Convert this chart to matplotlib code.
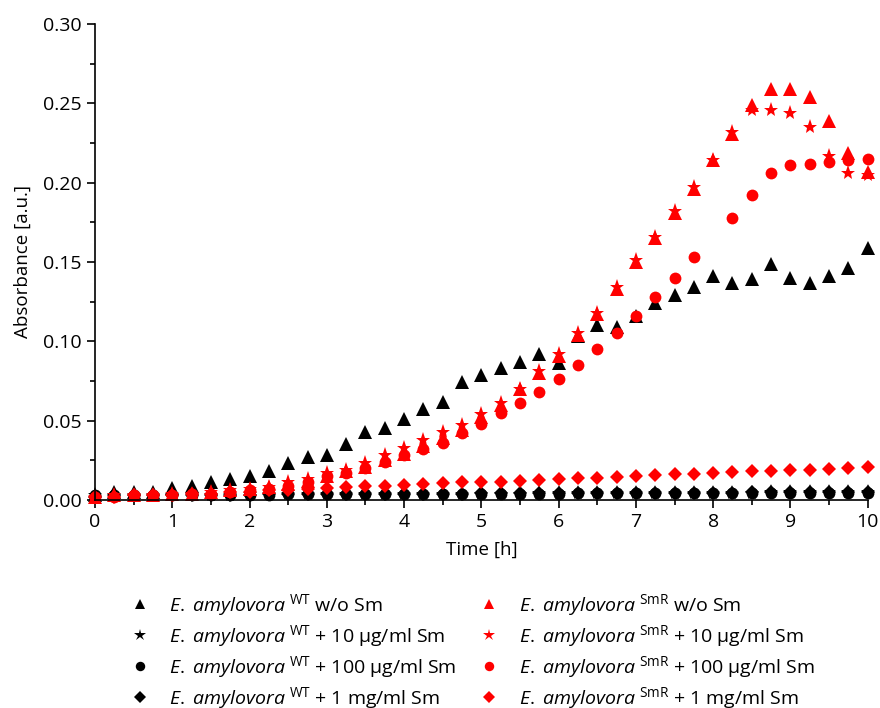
import numpy as np
import matplotlib.pyplot as plt
from matplotlib.ticker import MultipleLocator

plt.rcParams['font.family'] = ['Open Sans', 'DejaVu Sans']
plt.rcParams['mathtext.fontset'] = 'custom'
plt.rcParams['mathtext.rm'] = 'Open Sans'
plt.rcParams['mathtext.it'] = 'Open Sans:italic'

# temps de mesure (h), toutes les 15 min
t = np.arange(0, 10.01, 0.25)

# souche sauvage (WT)
wt_0 = [0.003, 0.005, 0.005, 0.005, 0.0075, 0.009, 0.011, 0.013, 0.015, 0.018, 0.023,
        0.027, 0.028, 0.035, 0.043, 0.045, 0.051, 0.057, 0.062, 0.074, 0.079,
        0.083, 0.087, 0.092, 0.086, 0.103, 0.110, 0.109, 0.116, 0.124, 0.129,
        0.134, 0.141, 0.137, 0.139, 0.149, 0.140, 0.137, 0.141, 0.146, 0.159]
wt_10 = [0.003, 0.003, 0.003, 0.003, 0.003, 0.003, 0.003, 0.003, 0.0035, 0.0035, 0.0035,
         0.0035, 0.0035, 0.004, 0.004, 0.004, 0.004, 0.004, 0.004, 0.004, 0.004,
         0.004, 0.004, 0.0042, 0.0042, 0.0042, 0.0044, 0.0044, 0.0044, 0.0045, 0.0045,
         0.0045, 0.0046, 0.0046, 0.0046, 0.0047, 0.0047, 0.0048, 0.0048, 0.0048, 0.005]
wt_100 = [0.003, 0.003, 0.003, 0.003, 0.003, 0.003, 0.003, 0.003, 0.003, 0.003, 0.0035,
          0.0035, 0.0035, 0.0035, 0.0035, 0.004, 0.004, 0.004, 0.004, 0.004, 0.004,
          0.004, 0.004, 0.004, 0.004, 0.0042, 0.0042, 0.0042, 0.0042, 0.0044, 0.0044,
          0.0044, 0.0044, 0.0045, 0.0045, 0.0045, 0.0045, 0.0045, 0.0046, 0.0046, 0.0046]
wt_1mg = [0.002, 0.003, 0.003, 0.003, 0.003, 0.003, 0.003, 0.003, 0.003, 0.0035, 0.0035,
          0.0035, 0.0035, 0.0035, 0.004, 0.004, 0.004, 0.004, 0.004, 0.004, 0.0042,
          0.0042, 0.0042, 0.0042, 0.0042, 0.0044, 0.0044, 0.0044, 0.0045, 0.0045, 0.0045,
          0.0046, 0.0046, 0.0046, 0.0047, 0.0047, 0.0048, 0.0048, 0.0048, 0.005, 0.005]

# souche resistante (SmR)
smr_0 = [0.002, 0.003, 0.003, 0.003, 0.004, 0.004, 0.005, 0.006, 0.007, 0.008, 0.010,
         0.012, 0.015, 0.018, 0.021, 0.025, 0.029, 0.034, 0.039, 0.044, 0.052,
         0.060, 0.070, 0.080, 0.091, 0.104, 0.117, 0.133, 0.150, 0.165, 0.181,
         0.196, 0.214, 0.231, 0.249, 0.259, 0.259, 0.254, 0.239, 0.219, 0.207]
smr_10 = [0.002, 0.003, 0.003, 0.003, 0.004, 0.004, 0.005, 0.006, 0.007, 0.008, 0.011,
          0.013, 0.017, 0.019, 0.023, 0.028, 0.033, 0.038, 0.043, 0.047, 0.054,
          0.061, 0.070, 0.081, 0.092, 0.105, 0.118, 0.134, 0.151, 0.166, 0.182,
          0.197, 0.214, 0.232, 0.246, 0.246, 0.244, 0.235, 0.217, 0.206, 0.205]
smr_100 = [0.002, 0.002, 0.003, 0.003, 0.003, 0.004, 0.004, 0.005, 0.006, 0.007, 0.009,
           0.011, 0.015, 0.017, 0.020, 0.024, 0.028, 0.032, 0.036, 0.042, 0.048,
           0.055, 0.061, 0.068, 0.076, 0.085, 0.095, 0.105, 0.116, 0.128, 0.140,
           0.153, np.nan, 0.178, 0.192, 0.206, 0.211, 0.212, 0.213, 0.214, 0.215]
smr_1mg = [0.002, 0.002, 0.003, 0.003, 0.003, 0.004, 0.004, 0.005, 0.005, 0.006, 0.006,
           0.007, 0.0075, 0.008, 0.0085, 0.009, 0.0095, 0.010, 0.0105, 0.011, 0.011,
           0.0115, 0.012, 0.0125, 0.013, 0.0135, 0.014, 0.0145, 0.015, 0.0155, 0.016,
           0.0165, 0.017, 0.0175, 0.018, 0.0185, 0.019, 0.019, 0.0195, 0.020, 0.021]

wt = r'$\mathit{E.}$ $\mathit{amylovora}^{\ \mathrm{WT}}$'
smr = r'$\mathit{E.}$ $\mathit{amylovora}^{\ \mathrm{SmR}}$'

series = [
    (wt_0, 'k', '^', 9.5, wt + ' w/o Sm'),
    (wt_10, 'k', '*', 11, wt + ' + 10 µg/ml Sm'),
    (wt_100, 'k', 'o', 8.5, wt + ' + 100 µg/ml Sm'),
    (wt_1mg, 'k', 'D', 7.5, wt + ' + 1 mg/ml Sm'),
    (smr_0, 'red', '^', 9.5, smr + ' w/o Sm'),
    (smr_10, 'red', '*', 11, smr + ' + 10 µg/ml Sm'),
    (smr_100, 'red', 'o', 8.5, smr + ' + 100 µg/ml Sm'),
    (smr_1mg, 'red', 'D', 7.5, smr + ' + 1 mg/ml Sm'),
]

fig = plt.figure(figsize=(8.8, 7.08), dpi=100)
axe = fig.add_axes([0.108, 0.294, 0.878, 0.672])

handles = []
for y, c, m, ms, lab in series:
    h, = axe.plot(t, y, linestyle='none', marker=m, color=c, markersize=ms,
                  markeredgewidth=0, label=lab, clip_on=False)
    handles.append(h)

axe.set_xlim(0, 10)
axe.set_ylim(0, 0.30)
axe.xaxis.set_major_locator(MultipleLocator(1))
axe.xaxis.set_minor_locator(MultipleLocator(0.5))
axe.yaxis.set_major_locator(MultipleLocator(0.05))
axe.yaxis.set_minor_locator(MultipleLocator(0.025))
axe.yaxis.set_major_formatter(plt.FormatStrFormatter('%.2f'))
axe.spines['top'].set_visible(False)
axe.spines['right'].set_visible(False)
axe.spines['left'].set_linewidth(1.2)
axe.spines['bottom'].set_linewidth(1.2)
axe.tick_params(which='major', direction='out', length=6, width=1.2, labelsize=14)
axe.tick_params(which='minor', direction='out', length=3.5, width=1.2)
axe.set_xlabel('Time [h]', fontsize=13.5, labelpad=7)
axe.set_ylabel('Absorbance [a.u.]', fontsize=13.5, labelpad=8)

fig.legend(handles=handles, loc='upper left', bbox_to_anchor=(0.139, 0.175),
           ncol=2, frameon=False, fontsize=14, handletextpad=1.0,
           columnspacing=1.2, labelspacing=0.26, handlelength=1.0,
           markerscale=0.8, borderaxespad=0)

fig.savefig('out.png', dpi=100)
